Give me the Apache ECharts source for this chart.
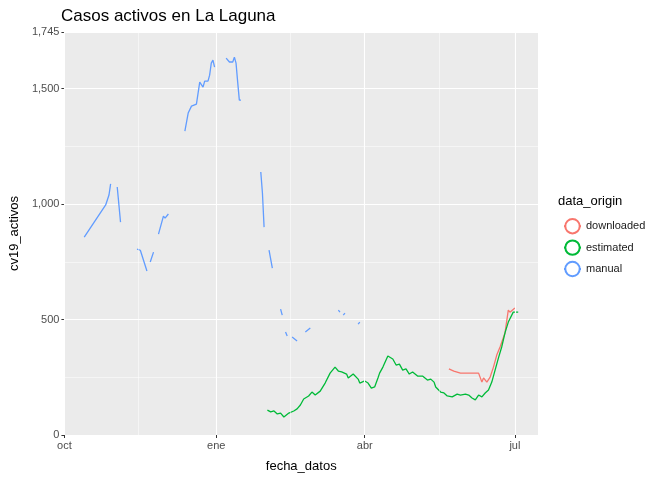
<!DOCTYPE html>
<html>
<head>
<meta charset="utf-8" />
<script src="https://cdn.jsdelivr.net/npm/echarts@6/dist/echarts.min.js"></script>
<style>
  html, body { margin: 0; background: #fff; }
  #chart { width: 672px; height: 480px; }
</style>
</head>
<body>
<div id="chart"></div>
<script>
// manual series, null = gap
var manualDates = [
  '2020-10-13','2020-10-26','2020-10-28','2020-10-29','2020-10-31',
  '2020-11-02','2020-11-04','2020-11-06',
  '2020-11-09','2020-11-11',
  '2020-11-14','2020-11-16','2020-11-20','2020-11-21',
  '2020-11-22','2020-11-24','2020-11-25',
  '2020-11-27','2020-11-28','2020-11-30','2020-12-01','2020-12-03','2020-12-05',
  '2020-12-07','2020-12-09',
  '2020-12-13','2020-12-15','2020-12-16','2020-12-17','2020-12-18','2020-12-20','2020-12-21',
  '2020-12-22','2020-12-23','2020-12-24','2020-12-25','2020-12-27','2020-12-28','2020-12-29',
  '2020-12-30','2020-12-31','2021-01-02',
  '2021-01-03','2021-01-05',
  '2021-01-07','2021-01-08','2021-01-09','2021-01-11','2021-01-12','2021-01-13','2021-01-14',
  '2021-01-15','2021-01-16','2021-01-22',
  '2021-01-28','2021-01-29','2021-01-30','2021-02-01',
  '2021-02-02','2021-02-03','2021-02-04','2021-02-06',
  '2021-02-09','2021-02-10','2021-02-11',
  '2021-02-12','2021-02-13','2021-02-15',
  '2021-02-16','2021-02-17','2021-02-19','2021-02-21',
  '2021-02-24','2021-02-25','2021-02-27','2021-03-01',
  '2021-03-16','2021-03-17','2021-03-18',
  '2021-03-19','2021-03-20','2021-03-24',
  '2021-03-28','2021-03-29'
];
var manualValues = [
  857, 996, 1039, 1087, null,
  1074, 922, null,
  957, null,
  805, 800, 710, null,
  749, 792, null,
  870, 896, 948, 939, 957, null,
  996, null,
  1316, 1394, 1398, 1424, 1429, 1433, 1433,
  1528, 1524, 1506, 1532, 1532, 1558, 1610,
  1623, 1593, null,
  1593, null,
  1632, 1628, 1615, 1615, 1636, 1610, 1528,
  1450, 1450, null,
  1139, 1048, 900, null,
  801, 801, 723, null,
  545, 519, null,
  446, 429, null,
  424, 429, 407, null,
  446, 442, 463, null,
  541, 532, null,
  519, 528, null,
  480, 489
];

var estimatedDates = [
  '2021-02-01','2021-02-03','2021-02-05','2021-02-07','2021-02-09','2021-02-11','2021-02-14',
  '2021-02-17','2021-02-19','2021-02-21','2021-02-23','2021-02-26','2021-02-28','2021-03-02',
  '2021-03-05','2021-03-08','2021-03-11','2021-03-14','2021-03-16','2021-03-18','2021-03-21',
  '2021-03-22','2021-03-25','2021-03-28','2021-03-29','2021-04-01','2021-04-03','2021-04-05',
  '2021-04-07','2021-04-09','2021-04-10','2021-04-12','2021-04-15','2021-04-18','2021-04-20',
  '2021-04-22','2021-04-24','2021-04-26','2021-04-28','2021-04-30','2021-05-01','2021-05-03',
  '2021-05-06','2021-05-09','2021-05-11','2021-05-13','2021-05-14','2021-05-17','2021-05-19',
  '2021-05-21','2021-05-24','2021-05-25','2021-05-27','2021-05-29','2021-06-01','2021-06-03',
  '2021-06-05','2021-06-07','2021-06-09','2021-06-11','2021-06-13','2021-06-15','2021-06-17',
  '2021-06-19','2021-06-21','2021-06-23','2021-06-25','2021-06-27','2021-06-30','2021-07-03'
];
var estimatedValues = [
  108, 100, 104, 91, 95, 78, 95,
  104, 113, 130, 156, 169, 186, 173,
  190, 225, 268, 294, 277, 273, 264,
  247, 264, 242, 225, 234, 225, 203,
  208, 247, 268, 294, 342, 329, 303,
  307, 281, 286, 264, 273, 281, 255,
  255, 238, 242, 229, 208, 186, 182,
  169, 165, 160, 177, 173, 177, 173,
  160, 152, 173, 165, 182, 195, 229,
  281, 333, 381, 442, 489, 532, 532
];

var downloadedDates = [
  '2021-05-22','2021-05-25','2021-05-29','2021-06-09','2021-06-10','2021-06-11','2021-06-12',
  '2021-06-14','2021-06-16','2021-06-18','2021-06-20','2021-06-22','2021-06-25','2021-06-27',
  '2021-06-28','2021-07-01'
];
var downloadedValues = [
  286, 277, 268, 268, 260, 229, 247,
  229, 251, 294, 346, 381, 442, 541,
  532, 550
];

var majorX = ['2020-10-01', '2021-01-01', '2021-04-01', '2021-07-01'];
var majorXLabels = ['oct', 'ene', 'abr', 'jul'];
var minorX = ['2020-11-15', '2021-02-15', '2021-05-16'];

var ts = function (s) { return +new Date(s + 'T00:00:00Z'); };
function pairs(d, v) {
  return d.map(function (x, i) { return [ts(x), v[i] == null ? '-' : v[i]]; });
}
var labelMap = {};
majorX.forEach(function (d, i) { labelMap[ts(d)] = majorXLabels[i]; });

var gridLines = majorX.map(function (d) {
  return { xAxis: ts(d), lineStyle: { color: '#fff', width: 1.1, type: 'solid' } };
}).concat(minorX.map(function (d) {
  return { xAxis: ts(d), lineStyle: { color: '#fff', width: 0.5, type: 'solid' } };
}));

var chart = echarts.init(document.getElementById('chart'));
chart.setOption({
  animation: false,
  textStyle: { fontFamily: 'Liberation Sans, DejaVu Sans, sans-serif' },
  title: [
    { text: 'Casos activos en La Laguna', left: 56, top: 3,
      textStyle: { fontSize: 17, fontWeight: 'normal', color: '#000' } },
    { text: 'data_origin', left: 553, top: 190,
      textStyle: { fontSize: 13, fontWeight: 'normal', color: '#000' } }
  ],
  legend: {
    orient: 'vertical', left: 558, top: 213, itemGap: 5,
    itemWidth: 17, itemHeight: 18,
    data: ['downloaded', 'estimated', 'manual'],
    textStyle: { fontSize: 11, color: '#1a1a1a' }
  },
  grid: { left: 62, right: 134, top: 32, bottom: 45, show: true,
    backgroundColor: '#EBEBEB', borderWidth: 0 },
  xAxis: {
    type: 'value', min: ts('2020-10-01'), max: ts('2021-07-15'),
    name: 'fecha_datos', nameLocation: 'middle', nameGap: 25,
    nameTextStyle: { fontSize: 13, color: '#000' },
    axisLine: { show: false },
    splitLine: { show: false },
    axisTick: { show: true, customValues: majorX.map(ts), length: 3, lineStyle: { color: '#333' } },
    axisLabel: { customValues: majorX.map(ts), color: '#4d4d4d', fontSize: 11, margin: 5,
      formatter: function (v) { return labelMap[v] || ''; } }
  },
  yAxis: {
    type: 'value', min: 0, max: 1745, interval: 500,
    name: 'cv19_activos', nameLocation: 'middle', nameGap: 42,
    nameTextStyle: { fontSize: 13, color: '#000' },
    axisLine: { show: false },
    axisTick: { show: true, length: 3, lineStyle: { color: '#333' } },
    axisLabel: { color: '#4d4d4d', fontSize: 11, margin: 5 },
    splitLine: { lineStyle: { color: '#fff', width: 1.1 } },
    minorTick: { show: false, splitNumber: 2 },
    minorSplitLine: { show: true, lineStyle: { color: '#fff', width: 0.5 } }
  },
  series: [
    { type: 'line', name: 'grid', data: [[ts('2021-01-01'), '-']], silent: true, z: 1,
      showSymbol: false,
      markLine: { symbol: 'none', silent: true, label: { show: false }, data: gridLines } },
    { type: 'line', name: 'downloaded', data: pairs(downloadedDates, downloadedValues), showSymbol: false,
      color: '#F8766D', lineStyle: { width: 1.3 }, z: 3 },
    { type: 'line', name: 'estimated', data: pairs(estimatedDates, estimatedValues), showSymbol: false,
      color: '#00BA38', lineStyle: { width: 1.3 }, z: 3 },
    { type: 'line', name: 'manual', data: pairs(manualDates, manualValues), showSymbol: false,
      connectNulls: false, color: '#619CFF', lineStyle: { width: 1.3 }, z: 3 }
  ]
});
</script>
</body>
</html>
